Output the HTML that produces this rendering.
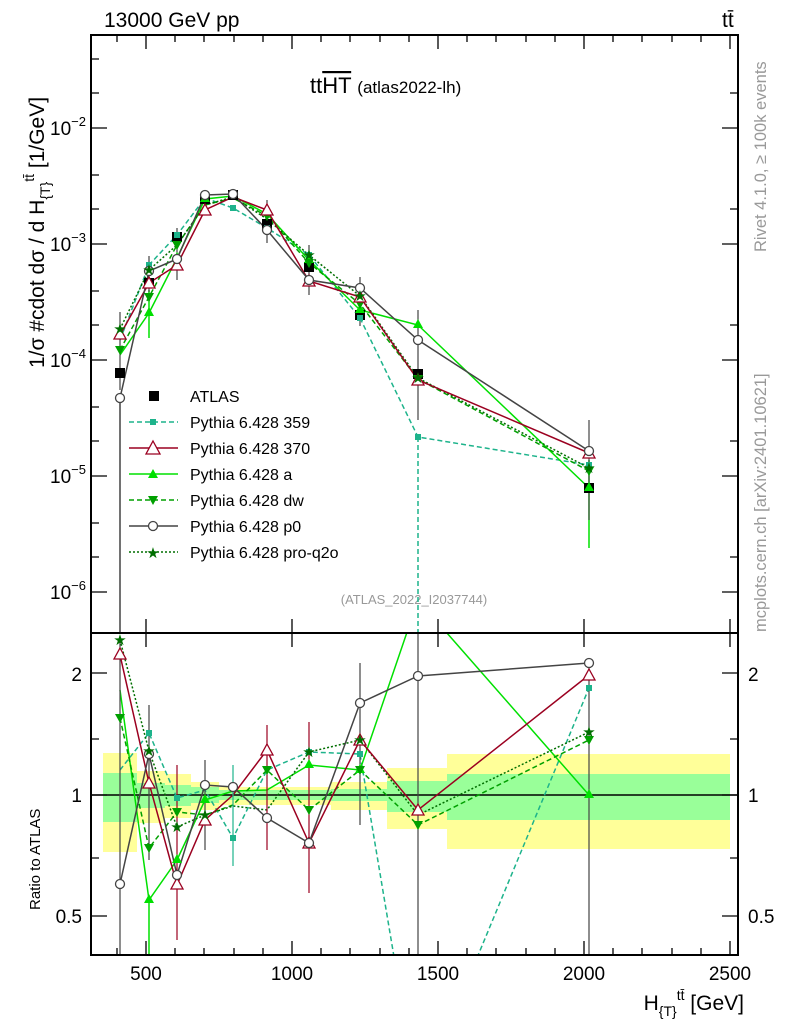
<!DOCTYPE html>
<html><head><meta charset="utf-8"><style>
html,body{margin:0;padding:0;width:786px;height:1024px;overflow:hidden;background:#fff}
svg{display:block;font-family:"Liberation Sans",sans-serif}
</style></head><body>
<svg width="786" height="1024" viewBox="0 0 786 1024" xmlns="http://www.w3.org/2000/svg">
<defs>
<clipPath id="cm"><rect x="91" y="35" width="647" height="598"/></clipPath>
<clipPath id="cr"><rect x="91" y="633" width="647" height="322"/></clipPath>
</defs>
<text x="104" y="27" font-size="21">13000 GeV pp</text>
<text x="722" y="27" font-size="21">tt̄</text>
<text x="310" y="93" font-size="22">tt<tspan text-decoration="overline">HT</tspan> <tspan font-size="17">(atlas2022-lh)</tspan></text>
<text x="414" y="604" font-size="13" fill="#999" text-anchor="middle">(ATLAS_2022_I2037744)</text>
<text transform="translate(766,252) rotate(-90)" font-size="16.5" fill="#999">Rivet 4.1.0, ≥ 100k events</text>
<text transform="translate(766,632) rotate(-90)" font-size="16.5" fill="#999">mcplots.cern.ch [arXiv:2401.10621]</text>
<text transform="translate(44,368) rotate(-90)" font-size="21">1/σ #cdot dσ / d H<tspan font-size="14" dy="6">{T}</tspan><tspan font-size="14" dy="-16">tt̄</tspan><tspan dy="10"> [1/GeV]</tspan></text>
<text transform="translate(40,910) rotate(-90)" font-size="15">Ratio to ATLAS</text>
<text x="744" y="1010" font-size="21" text-anchor="end">H<tspan font-size="14" dy="6">{T}</tspan><tspan font-size="14" dy="-16">tt̄</tspan><tspan dy="10"> [GeV]</tspan></text>
<g font-size="19" text-anchor="end">
<text x="86" y="135">10<tspan font-size="13" dy="-9">−2</tspan></text>
<text x="86" y="251">10<tspan font-size="13" dy="-9">−3</tspan></text>
<text x="86" y="367">10<tspan font-size="13" dy="-9">−4</tspan></text>
<text x="86" y="483">10<tspan font-size="13" dy="-9">−5</tspan></text>
<text x="86" y="599">10<tspan font-size="13" dy="-9">−6</tspan></text>
<text x="82" y="681">2</text><text x="82" y="802">1</text><text x="82" y="923">0.5</text>
</g>
<g font-size="19">
<text x="748" y="681">2</text><text x="748" y="802">1</text><text x="748" y="923">0.5</text>
</g>
<g font-size="19" text-anchor="middle">
<text x="146" y="980">500</text><text x="292" y="980">1000</text><text x="438" y="980">1500</text><text x="584" y="980">2000</text><text x="730" y="980">2500</text>
</g>
<g clip-path="url(#cr)">
<g fill="#ffff99">
<rect x="103" y="753" width="34" height="99"/><rect x="137" y="771" width="28" height="52"/><rect x="165" y="774" width="26" height="44"/><rect x="191" y="782" width="28" height="28"/><rect x="219" y="787" width="112" height="18"/><rect x="331" y="782" width="56" height="28"/><rect x="387" y="768" width="60" height="61"/><rect x="447" y="754" width="283" height="95"/>
</g>
<g fill="#99ff99">
<rect x="103" y="773" width="34" height="49"/><rect x="137" y="783" width="28" height="25"/><rect x="165" y="785" width="26" height="21"/><rect x="191" y="787" width="28" height="16"/><rect x="219" y="790" width="112" height="10"/><rect x="331" y="789" width="56" height="12"/><rect x="387" y="781" width="60" height="31"/><rect x="447" y="774" width="283" height="46"/>
</g>
<line x1="91" y1="795" x2="738" y2="795" stroke="#000" stroke-width="1.5"/>
</g>
<g clip-path="url(#cm)" fill="none" stroke-width="1.5">
<polyline stroke="#1db38b" stroke-dasharray="5,3" points="120,340 149,265 177,235 205,198 233,208 267,228 309,255 360,318 418,437 589,465"/>
<line x1="418" y1="437" x2="418" y2="640" stroke="#1db38b" stroke-dasharray="5,3"/>
<polyline stroke="#00e000" points="120,355 149,313 177,258 205,199 233,196 267,214 309,260 360,310 418,325 589,488"/>
<line x1="589" y1="460" x2="589" y2="548" stroke="#00e000"/>
<line x1="149" y1="290" x2="149" y2="338" stroke="#00e000"/>
<polyline stroke="#00a000" stroke-dasharray="5,3" points="120,350 149,297 177,245 205,205 233,198 267,216 309,263 360,304 418,379 589,471"/>
<polyline stroke="#006e00" stroke-dasharray="2,2" points="120,329 149,270 177,245 205,205 233,197 267,219 309,255 360,296 418,378 589,468"/>
<polyline stroke="#9b0020" points="120,335 149,283 177,265 205,210 233,197 267,210 309,281 360,297 418,380 589,453"/>
<polyline stroke="#444" points="120,398 149,271 177,259 205,195 233,194 267,230 309,280 360,288 418,340 589,451"/>
<line x1="120" y1="398" x2="120" y2="640" stroke="#444"/>
<g stroke="#444" stroke-width="1.2">
<line x1="120" y1="312" x2="120" y2="390"/><line x1="149" y1="256" x2="149" y2="292"/><line x1="177" y1="228" x2="177" y2="280"/><line x1="267" y1="200" x2="267" y2="243"/><line x1="309" y1="245" x2="309" y2="295"/><line x1="360" y1="277" x2="360" y2="326"/><line x1="418" y1="310" x2="418" y2="420"/><line x1="589" y1="420" x2="589" y2="520"/>
</g>
<g fill="#000" stroke="none">
<rect x="115" y="368" width="10" height="10"/><rect x="144" y="278" width="10" height="10"/><rect x="172" y="232" width="10" height="10"/><rect x="200" y="194" width="10" height="10"/><rect x="228" y="190" width="10" height="10"/><rect x="262" y="219" width="10" height="10"/><rect x="304" y="262" width="10" height="10"/><rect x="355" y="310" width="10" height="10"/><rect x="413" y="369" width="10" height="10"/><rect x="584" y="483" width="10" height="10"/>
</g>
<g fill="#1db38b" stroke="none">
<rect x="146" y="262" width="6" height="6"/><rect x="174" y="232" width="6" height="6"/><rect x="230" y="205" width="6" height="6"/><rect x="264" y="225" width="6" height="6"/><rect x="306" y="252" width="6" height="6"/><rect x="357" y="315" width="6" height="6"/><rect x="415" y="434" width="6" height="6"/><rect x="586" y="462" width="6" height="6"/>
</g>
<g fill="#00e000" stroke="none">
<path d="M149,307 l5,9 h-10z M177,252 l5,9 h-10z M205,193 l5,9 h-10z M309,254 l5,9 h-10z M360,304 l5,9 h-10z M418,319 l5,9 h-10z M589,482 l5,9 h-10z"/>
</g>
<g fill="#00a000" stroke="none">
<path d="M120,355 l5,-9 h-10z M149,302 l5,-9 h-10z M177,250 l5,-9 h-10z M267,221 l5,-9 h-10z M309,268 l5,-9 h-10z M360,309 l5,-9 h-10z M418,384 l5,-9 h-10z M589,476 l5,-9 h-10z"/>
</g>
<g fill="#fff" stroke="#9b0020" stroke-width="1.3">
<path d="M120,328 l6,11 h-12z M149,277 l6,11 h-12z M177,259 l6,11 h-12z M205,204 l6,11 h-12z M267,204 l6,11 h-12z M309,275 l6,11 h-12z M360,291 l6,11 h-12z M418,374 l6,11 h-12z M589,447 l6,11 h-12z"/>
</g>
<g fill="#fff" stroke="#444" stroke-width="1.3">
<circle cx="120" cy="398" r="4.5"/><circle cx="149" cy="271" r="4.5"/><circle cx="177" cy="259" r="4.5"/><circle cx="205" cy="195" r="4.5"/><circle cx="233" cy="194" r="4.5"/><circle cx="267" cy="230" r="4.5"/><circle cx="309" cy="280" r="4.5"/><circle cx="360" cy="288" r="4.5"/><circle cx="418" cy="340" r="4.5"/><circle cx="589" cy="451" r="4.5"/>
</g>
<g fill="#006e00" font-size="15" text-anchor="middle">
<text x="120" y="334">★</text><text x="149" y="275">★</text><text x="309" y="260">★</text><text x="360" y="301">★</text><text x="418" y="383">★</text><text x="589" y="473">★</text>
</g>
</g>
<g clip-path="url(#cr)" fill="none" stroke-width="1.5">
<polyline stroke="#1db38b" stroke-dasharray="5,3" points="120,770 149,733 177,798 205,790 233,838 267,770 309,752 360,754 418,1100 589,688"/>
<polyline stroke="#00e000" points="120,690 149,900 177,860 205,800 233,791 267,790 309,765 360,770 418,600 589,795"/>
<line x1="149" y1="900" x2="149" y2="960" stroke="#00e000"/>
<polyline stroke="#00a000" stroke-dasharray="5,3" points="120,718 149,848 177,812 205,815 233,805 267,770 309,810 360,770 418,825 589,740"/>
<polyline stroke="#006e00" stroke-dasharray="2,2" points="120,640 149,751 177,827 205,815 233,806 267,810 309,752 360,740 418,815 589,732"/>
<polyline stroke="#9b0020" points="120,655 149,783 177,885 205,820 233,795 267,750 309,843 360,740 418,810 589,675"/>
<polyline stroke="#444" points="120,884 149,754 177,875 205,785 233,787 267,818 309,843 360,703 418,676 589,663"/>
<g stroke-width="1.2">
<line x1="120" y1="640" x2="120" y2="960" stroke="#444"/><line x1="149" y1="705" x2="149" y2="860" stroke="#444"/><line x1="177" y1="765" x2="177" y2="940" stroke="#9b0020"/><line x1="205" y1="760" x2="205" y2="850" stroke="#444"/><line x1="233" y1="765" x2="233" y2="866" stroke="#1db38b"/><line x1="267" y1="725" x2="267" y2="850" stroke="#9b0020"/><line x1="309" y1="722" x2="309" y2="893" stroke="#9b0020"/><line x1="360" y1="663" x2="360" y2="825" stroke="#444"/><line x1="418" y1="630" x2="418" y2="960" stroke="#444"/><line x1="589" y1="660" x2="589" y2="960" stroke="#444"/>
</g>
<g fill="#1db38b" stroke="none"><rect x="146" y="730" width="6" height="6"/><rect x="174" y="795" width="6" height="6"/><rect x="230" y="835" width="6" height="6"/><rect x="306" y="749" width="6" height="6"/><rect x="357" y="751" width="6" height="6"/><rect x="586" y="685" width="6" height="6"/></g>
<g fill="#00e000" stroke="none"><path d="M149,894 l5,9 h-10z M177,854 l5,9 h-10z M205,794 l5,9 h-10z M309,759 l5,9 h-10z M360,764 l5,9 h-10z M589,789 l5,9 h-10z"/></g>
<g fill="#00a000" stroke="none"><path d="M120,723 l5,-9 h-10z M149,853 l5,-9 h-10z M177,817 l5,-9 h-10z M267,775 l5,-9 h-10z M309,815 l5,-9 h-10z M360,775 l5,-9 h-10z M418,830 l5,-9 h-10z M589,745 l5,-9 h-10z"/></g>
<g fill="#fff" stroke="#9b0020" stroke-width="1.3"><path d="M120,648 l6,11 h-12z M149,777 l6,11 h-12z M177,878 l6,11 h-12z M205,814 l6,11 h-12z M267,744 l6,11 h-12z M309,837 l6,11 h-12z M360,734 l6,11 h-12z M418,804 l6,11 h-12z M589,669 l6,11 h-12z"/></g>
<g fill="#fff" stroke="#444" stroke-width="1.3"><circle cx="120" cy="884" r="4.5"/><circle cx="149" cy="754" r="4.5"/><circle cx="177" cy="875" r="4.5"/><circle cx="205" cy="785" r="4.5"/><circle cx="233" cy="787" r="4.5"/><circle cx="267" cy="818" r="4.5"/><circle cx="309" cy="843" r="4.5"/><circle cx="360" cy="703" r="4.5"/><circle cx="418" cy="676" r="4.5"/><circle cx="589" cy="663" r="4.5"/></g>
<g fill="#006e00" font-size="15" text-anchor="middle"><text x="120" y="645">★</text><text x="149" y="756">★</text><text x="177" y="832">★</text><text x="205" y="820">★</text><text x="309" y="757">★</text><text x="360" y="745">★</text><text x="589" y="737">★</text></g>
</g>
<g font-size="16">
<rect x="149" y="391" width="10" height="10" fill="#000"/><text x="190" y="402">ATLAS</text>
<line x1="129" y1="422" x2="178" y2="422" stroke="#1db38b" stroke-width="1.5" stroke-dasharray="5,3"/><rect x="150" y="419" width="6" height="6" fill="#1db38b"/><text x="190" y="428">Pythia 6.428 359</text>
<line x1="129" y1="448" x2="178" y2="448" stroke="#9b0020" stroke-width="1.5"/><path d="M153,441 l7,13 h-14z" fill="#fff" stroke="#9b0020" stroke-width="1.3"/><text x="190" y="454">Pythia 6.428 370</text>
<line x1="129" y1="474" x2="178" y2="474" stroke="#00e000" stroke-width="1.5"/><path d="M153,469 l5,9 h-10z" fill="#00e000"/><text x="190" y="480">Pythia 6.428 a</text>
<line x1="129" y1="500" x2="178" y2="500" stroke="#00a000" stroke-width="1.5" stroke-dasharray="5,3"/><path d="M153,505 l5,-9 h-10z" fill="#00a000"/><text x="190" y="506">Pythia 6.428 dw</text>
<line x1="129" y1="526" x2="178" y2="526" stroke="#444" stroke-width="1.5"/><circle cx="153" cy="526" r="4.5" fill="#fff" stroke="#444" stroke-width="1.3"/><text x="190" y="532">Pythia 6.428 p0</text>
<line x1="129" y1="552" x2="178" y2="552" stroke="#006e00" stroke-width="1.5" stroke-dasharray="2,2"/><text x="153" y="558" fill="#006e00" font-size="15" text-anchor="middle">★</text><text x="190" y="558">Pythia 6.428 pro-q2o</text>
</g>
<g fill="none" stroke="#000" stroke-width="2">
<rect x="91" y="35" width="647" height="598"/>
<rect x="91" y="633" width="647" height="322"/>
</g>
<g stroke="#000" stroke-width="1.3">
<path d="M91,128h16M91,244h16M91,360h16M91,476h16M91,592h16M738,128h-16M738,244h-16M738,360h-16M738,476h-16M738,592h-16"/>
<path d="M91,93h8M91,59h8M91,209h8M91,175h8M91,325h8M91,291h8M91,441h8M91,407h8M91,557h8M91,523h8M738,93h-8M738,209h-8M738,325h-8M738,441h-8M738,557h-8"/>
<path d="M91,673h16M91,795h16M91,916h16M738,673h-16M738,795h-16M738,916h-16M91,739h8M91,858h8M738,739h-8M738,858h-8"/>
<path d="M146,955v-14M292,955v-14M438,955v-14M584,955v-14M730,955v-14M146,633v-14M292,633v-14M438,633v-14M584,633v-14M730,633v-14M146,35v14M292,35v14M438,35v14M584,35v14M730,35v14M146,633v14M292,633v14M438,633v14M584,633v14M730,633v14"/>
<path d="M117,955v-7M175,955v-7M204,955v-7M234,955v-7M263,955v-7M321,955v-7M350,955v-7M380,955v-7M409,955v-7M467,955v-7M496,955v-7M526,955v-7M555,955v-7M613,955v-7M642,955v-7M672,955v-7M701,955v-7M117,35v7M175,35v7M204,35v7M234,35v7M263,35v7M321,35v7M350,35v7M380,35v7M409,35v7M467,35v7M496,35v7M526,35v7M555,35v7M613,35v7M642,35v7M672,35v7M701,35v7"/>
</g>
</svg>
</body></html>
